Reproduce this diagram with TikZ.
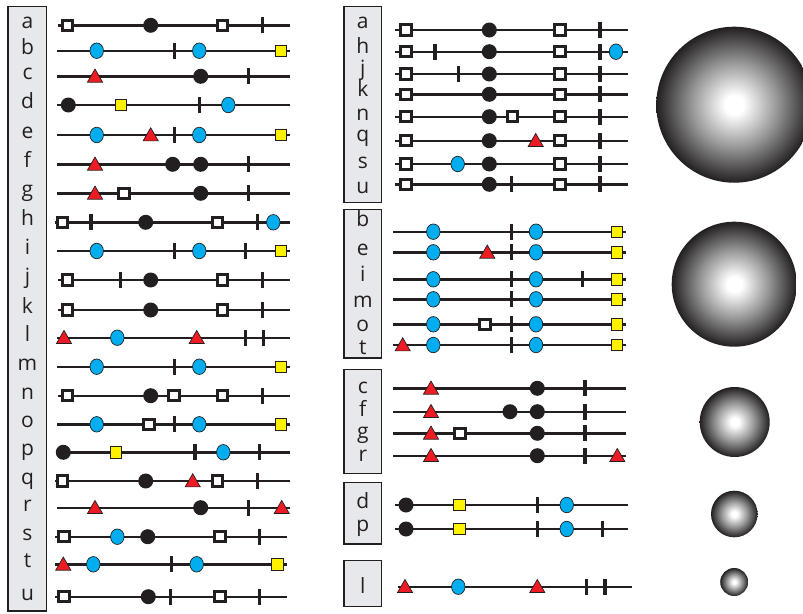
\documentclass[tikz,border=0pt]{standalone}
\usepackage{fontspec}
\setmainfont{Open Sans}
\usetikzlibrary{shapes.geometric}

\definecolor{ink}{HTML}{231F20}
\definecolor{cyanfill}{HTML}{00AEEF}
\definecolor{redfill}{HTML}{ED1C24}
\definecolor{yellowfill}{HTML}{FFF200}
\definecolor{boxgray}{HTML}{E7E8EC}

% white core fading to a near-black rim
\pgfdeclareradialshading{sphere}{\pgfpoint{0bp}{0bp}}{color(0bp)=(white); color(3bp)=(white); color(14bp)=(black!42); color(25bp)=(ink); color(50bp)=(ink)}

\tikzset{
  backbone/.style={draw=ink, line width=2.4pt},
  hsq/.style={rectangle, draw=ink, line width=3pt, fill=white, minimum size=10.5pt, inner sep=0pt},
  bdot/.style={circle, fill=ink, minimum size=15pt, inner sep=0pt},
  bell/.style={ellipse, draw=ink, line width=0.7pt, fill=cyanfill, minimum width=13.5pt, minimum height=15.5pt, inner sep=0pt},
  ysq/.style={rectangle, draw=ink, line width=0.7pt, fill=yellowfill, minimum size=11.5pt, inner sep=0pt},
  rtri/.style={regular polygon, regular polygon sides=3, draw=ink, line width=0.7pt, fill=redfill, minimum size=17.5pt, inner sep=0pt, yshift=-1.5pt},
  tck/.style={rectangle, fill=ink, minimum width=3.4pt, minimum height=16pt, inner sep=0pt},
  labelbox/.style={draw=ink, line width=1.2pt, fill=boxgray},
  lbl/.style={anchor=base, inner sep=0pt, font=\fontsize{21}{24}\selectfont, text=ink},
}

% one sequence: #1 name, #2 y, #3 start x, #4 end x, #5 list of kind/x
\newcommand{\seqline}[5]{%
  \coordinate (#1-s) at (#3,#2);
  \coordinate (#1-e) at (#4,#2);
  \draw[backbone] (#1-s) -- (#1-e);
  \foreach \k/\x [count=\i] in {#5} {%
    \edef\seqtmp{\noexpand\node[\k] (#1-\i) at (\x,#2) {};}\seqtmp
  }%
}

\begin{document}
\begin{tikzpicture}[x=1pt,y=-1pt]
\useasboundingbox (0,0) rectangle (803,613);
\clip (0,0) rectangle (803,613);

% ---------- left column: all sequences ----------
\draw[labelbox] (8,6.7) rectangle (46.7,611);
\foreach \l/\y in {a/25.3,b/50.7,c/76.3,d/105,e/135,f/164.3,g/193.3,h/222.3,i/251,j/280,k/310,l/337.7,m/366.7,n/395.7,o/424.3,p/452.3,q/481,r/507.7,s/536.7,t/564.3,u/596.7}
  \node[lbl] (Llab-\l) at (27.5,\y+3.5) {\l};

\seqline{L-a}{25.3}{58}{290}{hsq/67.7,bdot/150.7,hsq/222.7,tck/262.7}
\seqline{L-b}{50.7}{57}{290}{bell/96.7,tck/174.3,bell/199.3,ysq/280.7}
\seqline{L-c}{76.3}{57}{290}{rtri/95,bdot/200.7,tck/248.3}
\seqline{L-d}{105}{57}{290}{bdot/68.3,ysq/121,tck/199.3,bell/228.3}
\seqline{L-e}{135}{57}{290}{bell/96.7,rtri/150.7,tck/174.3,bell/199.3,ysq/280.7}
\seqline{L-f}{164.3}{57}{290}{rtri/95,bdot/172.7,bdot/200.7,tck/248.3}
\seqline{L-g}{193.3}{57}{290}{rtri/95,hsq/124,bdot/200.7,tck/248.3}
\seqline{L-h}{222.3}{55}{290}{hsq/62.7,tck/91,bdot/145.7,hsq/217.3,tck/257.3,bell/273.3}
\seqline{L-i}{251}{57}{290}{bell/96.7,tck/174.3,bell/199.3,tck/245.7,ysq/280.7}
\seqline{L-j}{280}{58}{290}{hsq/67.7,tck/120.7,bdot/150.7,hsq/222.7,tck/262.7}
\seqline{L-k}{310}{58}{290}{hsq/67.7,bdot/150.7,hsq/222.7,tck/262.7}
\seqline{L-l}{337.7}{57}{290}{rtri/64,bell/117.3,rtri/196.7,tck/245.7,tck/263.3}
\seqline{L-m}{366.7}{57}{290}{bell/96.7,tck/174.3,bell/199.3,ysq/280.7}
\seqline{L-n}{395.7}{58}{290}{hsq/67.7,bdot/150.7,hsq/174,hsq/222.7,tck/262.7}
\seqline{L-o}{424.3}{57}{290}{bell/96.7,hsq/149,tck/174.3,bell/199.3,ysq/280.7}
\seqline{L-p}{452.3}{57}{290}{bdot/63.3,ysq/116,tck/195,bell/223.3,tck/259.3}
\seqline{L-q}{481}{55}{290}{hsq/62.3,bdot/145.7,rtri/192.7,hsq/217.3,tck/257.3}
\seqline{L-r}{507.7}{57}{290}{rtri/95,bdot/200.7,tck/248.3,rtri/281.7}
\seqline{L-s}{536.7}{55}{287}{hsq/64,bell/117.3,bdot/147.7,hsq/220,tck/259.3}
\seqline{L-t}{564.3}{55}{287}{rtri/63.3,bell/93.3,tck/171.7,bell/196.7,ysq/277.3}
\seqline{L-u}{596.7}{55}{287}{hsq/64,bdot/148.3,tck/170.7,hsq/220,tck/259.3}

% ---------- middle column: grouped sequences ----------
% group 1
\draw[labelbox] (344,6.7) rectangle (381.7,202.5);
\foreach \l/\y in {a/28.3,h/53.3,j/75,k/96.7,n/120,q/141.7,s/168.3,u/193.3}
  \node[lbl] (G1lab-\l) at (362.8,\y) {\l};
\seqline{G1-a}{30}{395}{627.7}{hsq/406,bdot/489.3,hsq/560,tck/600}
\seqline{G1-h}{51.7}{395}{627.7}{hsq/406,tck/435,bdot/489.3,hsq/560,tck/600,bell/616}
\seqline{G1-j}{74}{395}{627.7}{hsq/406,tck/458.3,bdot/489.3,hsq/560,tck/600}
\seqline{G1-k}{94.3}{395}{627.7}{hsq/406,bdot/489.3,hsq/560,tck/600}
\seqline{G1-n}{116.7}{395}{627.7}{hsq/406,bdot/489.3,hsq/512.3,hsq/560,tck/600}
\seqline{G1-q}{140.7}{395}{627.7}{hsq/406,bdot/489.3,rtri/535.7,hsq/560,tck/600}
\seqline{G1-s}{164}{395}{627.7}{hsq/406,bell/457.7,bdot/489.3,hsq/560,tck/600}
\seqline{G1-u}{184.3}{395}{627.7}{hsq/406,bdot/489.3,tck/511.7,hsq/560,tck/600}

% group 2
\draw[labelbox] (344,209.3) rectangle (381.7,358);
\foreach \l/\y in {b/226.7,e/255,i/281.7,m/307.3,o/331.7,t/354}
  \node[lbl] (G2lab-\l) at (362.8,\y) {\l};
\seqline{G2-b}{231.7}{393.3}{626}{bell/433.3,tck/511.7,bell/536,ysq/616.7}
\seqline{G2-e}{252.3}{393.3}{626}{bell/433.3,rtri/487.3,tck/511.7,bell/536,ysq/616.7}
\seqline{G2-i}{279.3}{393.3}{626}{bell/433.3,tck/511.7,bell/536,tck/582.3,ysq/616.7}
\seqline{G2-m}{299.3}{393.3}{626}{bell/433.3,tck/511.7,bell/536,ysq/616.7}
\seqline{G2-o}{324.3}{393.3}{626}{bell/433.3,hsq/485,tck/511.7,bell/536,ysq/616.7}
\seqline{G2-t}{345}{393.3}{626}{rtri/402.7,bell/433.3,tck/511.7,bell/536,ysq/616.7}

% group 3
\draw[labelbox] (344,369.3) rectangle (381.7,473.3);
\foreach \l/\y in {c/393.3,f/416.7,g/438.3,r/461.7}
  \node[lbl] (G3lab-\l) at (362.8,\y) {\l};
\seqline{G3-c}{388.3}{393.3}{626}{rtri/431,bdot/537.3,tck/585}
\seqline{G3-f}{411.7}{393.3}{626}{rtri/431,bdot/510,bdot/537.3,tck/585}
\seqline{G3-g}{433.3}{393.3}{626}{rtri/431,hsq/460,bdot/537.3,tck/585}
\seqline{G3-r}{455.7}{393.3}{626}{rtri/431,bdot/537.3,tck/585,rtri/617.3}

% group 4
\draw[labelbox] (344,482.7) rectangle (381.7,544);
\foreach \l/\y in {d/508.3,p/531.7}
  \node[lbl] (G4lab-\l) at (362.8,\y) {\l};
\seqline{G4-d}{505}{395}{628.3}{bdot/406,ysq/459.3,tck/537.3,bell/566.7}
\seqline{G4-p}{529}{395}{628.3}{bdot/406,ysq/459.3,tck/537.3,bell/566.7,tck/602.7}

% group 5
\draw[labelbox] (344,560.7) rectangle (381.7,606.7);
\node[lbl] (G5lab-l) at (362.8,593.3) {l};
\seqline{G5-l}{586.7}{398.3}{631.7}{rtri/405,bell/458.3,rtri/537.3,tck/586.7,tck/605}

% ---------- right column: shaded spheres ----------
\shade[shading=sphere] (734.3,104.7) circle (78);
\shade[shading=sphere] (734.2,284.2) circle (62.5);
\shade[shading=sphere] (734.7,422) circle (35);
\shade[shading=sphere] (734.3,514) circle (23.3);
\shade[shading=sphere] (734.2,582) circle (14);
\end{tikzpicture}
\end{document}
